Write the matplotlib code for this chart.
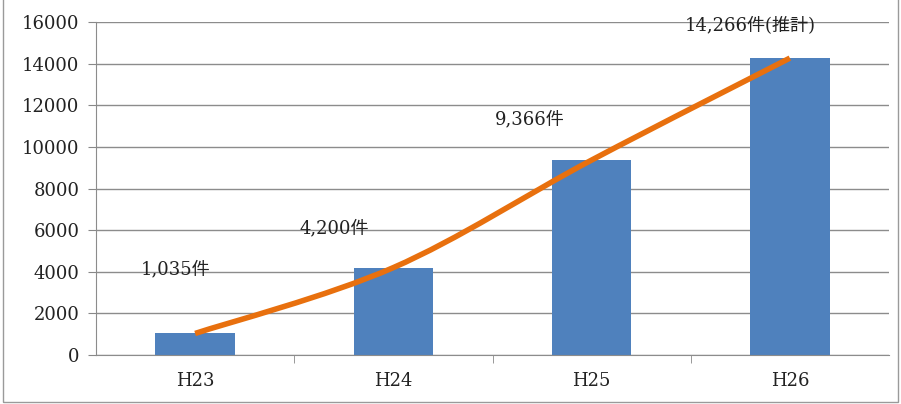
import numpy as np
import matplotlib.pyplot as plt
from matplotlib.path import Path
from matplotlib.patches import PathPatch, Rectangle

# data
years = ['H23', 'H24', 'H25', 'H26']
counts = [1035, 4200, 9366, 14266]
labels = ['1,035件', '4,200件', '9,366件', '14,266件(推計)']
yticks = [0, 2000, 4000, 6000, 8000, 10000, 12000, 14000, 16000]

FONT = ['DejaVu Serif', 'Noto Sans CJK JP']
plt.rcParams['font.family'] = FONT
FS = 13

fig = plt.figure(figsize=(9.01, 4.04), dpi=100)
ax = fig.add_axes([96 / 901, 49 / 404, 793 / 901, 333 / 404])

x = np.arange(len(years))
ax.bar(x, counts, width=0.4, color='#4F81BD', zorder=2)

# smoothed line (Catmull-Rom style bezier through the points, like Excel)
pts = np.column_stack([x, counts]).astype(float)
verts = [pts[0]]
codes = [Path.MOVETO]
for i in range(len(pts) - 1):
    p0 = pts[i - 1] if i > 0 else pts[i]
    p1 = pts[i]
    p2 = pts[i + 1]
    p3 = pts[i + 2] if i + 2 < len(pts) else pts[i + 1]
    c1 = p1 + (p2 - p0) / 6.0
    c2 = p2 - (p3 - p1) / 6.0
    verts += [c1, c2, p2]
    codes += [Path.CURVE4] * 3
ax.add_patch(PathPatch(Path(verts, codes), facecolor='none', edgecolor='#E8700E',
                       lw=4, capstyle='butt', zorder=3))

# value labels
label_x = [-0.1, -0.3, -0.31, -0.2]
label_y = [4100, 6100, 11300, 15800]
for xi, dx, ly, t in zip(x, label_x, label_y, labels):
    ax.text(xi + dx, ly, t, ha='center', va='center', fontsize=FS, color='#222222', zorder=4)

ax.set_xlim(-0.5, 3.5)
ax.set_ylim(0, 16000)
ax.set_yticks(yticks)
ax.set_yticklabels([str(v) for v in yticks], fontsize=FS)
ax.set_xticks(x)
ax.set_xticklabels(years, fontsize=FS)
ax.set_xticks([0.5, 1.5, 2.5], minor=True)
ax.tick_params(axis='x', which='major', length=0, pad=12)
ax.tick_params(axis='x', which='minor', length=6, color='#888888')
ax.tick_params(axis='y', length=6, color='#888888', pad=6)
for lbl in ax.get_xticklabels() + ax.get_yticklabels():
    lbl.set_color('#222222')

ax.grid(axis='y', color='#8c8c8c', lw=1, zorder=0)
ax.set_axisbelow(True)
for s in ['top', 'right']:
    ax.spines[s].set_visible(False)
ax.spines['left'].set_color('#8c8c8c')
ax.spines['bottom'].set_color('#8c8c8c')

# outer frame
fig.patches.append(Rectangle((3 / 901, 2 / 404), 895 / 901, 410 / 404, transform=fig.transFigure,
                             fill=False, edgecolor='#9a9a9a', lw=1))

fig.savefig('out.png', dpi=100)
